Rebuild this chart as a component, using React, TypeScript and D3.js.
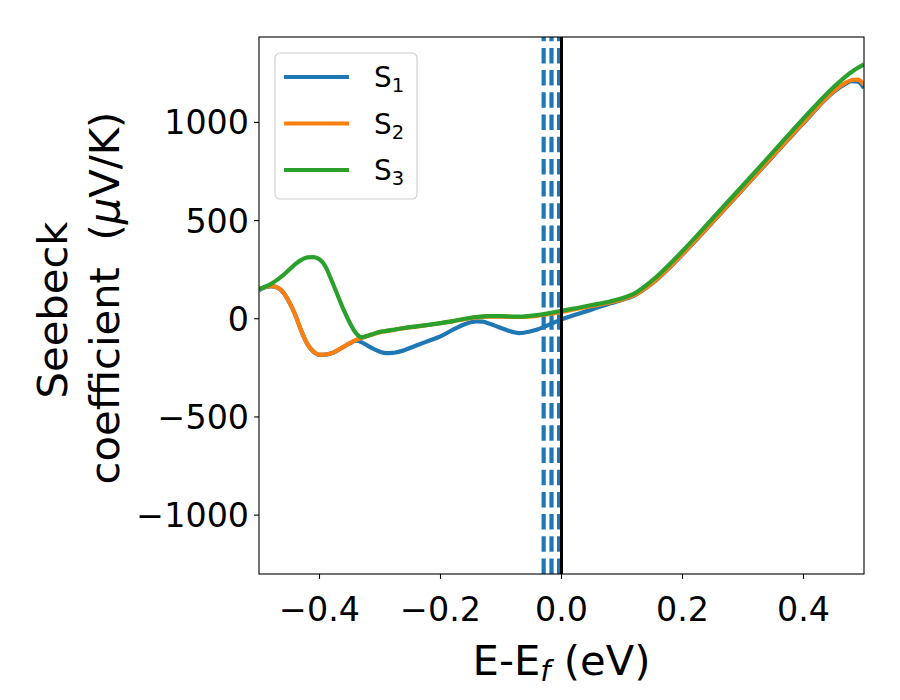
import React from 'react';
import * as d3 from 'd3';

// energy grid (eV, relative to E_f)
const energies = [
  -0.50, -0.49, -0.48, -0.47, -0.46, -0.45, -0.44, -0.43, -0.42, -0.41,
  -0.40, -0.39, -0.38, -0.37, -0.36, -0.35, -0.34, -0.33, -0.32, -0.31,
  -0.30, -0.29, -0.28, -0.26, -0.24, -0.22, -0.20, -0.18, -0.16, -0.15,
  -0.14, -0.13, -0.12, -0.10, -0.08, -0.07, -0.06, -0.04, -0.02, 0.00,
  0.02, 0.05, 0.08, 0.10, 0.12, 0.15, 0.20, 0.25, 0.30, 0.35,
  0.40, 0.45, 0.47, 0.48, 0.49, 0.50,
];

const s1 = [
  145, 160, 165, 159, 134, 84, 19, -63, -129, -168,
  -184, -183, -176, -161, -143, -126, -112, -120, -138, -155,
  -168, -175, -174, -160, -136, -113, -90, -57, -28, -18,
  -13, -15, -24, -47, -68, -73, -70, -55, -30, -3,
  18, 47, 78, 96, 118, 180, 327, 492, 660, 829,
  997, 1155, 1198, 1210, 1208, 1175,
];

const s2 = [
  150, 162, 166, 160, 135, 85, 20, -62, -128, -167,
  -183, -182, -175, -160, -142, -124, -108, -97, -87, -77,
  -68, -63, -58, -48, -40, -32, -23, -13, -2, 3,
  7, 10, 11, 11, 9, 9, 10, 15, 24, 35,
  47, 65, 83, 98, 120, 182, 330, 495, 663, 832,
  1000, 1160, 1203, 1216, 1218, 1192,
];

const s3 = [
  150, 163, 178, 198, 222, 250, 278, 300, 313, 314,
  303, 265, 195, 120, 45, -20, -72, -95, -86, -76,
  -67, -62, -57, -47, -39, -31, -22, -12, 0, 5,
  9, 12, 13, 13, 11, 11, 12, 19, 29, 41,
  52, 70, 88, 104, 128, 195, 345, 512, 680, 850,
  1020, 1180, 1235, 1258, 1278, 1296,
];

const seriesNames = ['1', '2', '3'];
const seriesColors = ['#1f77b4', '#ff7f0e', '#2ca02c'];
const fermiLevels = [-0.0295, -0.0165, -0.004];

const xTicks = [-0.4, -0.2, 0.0, 0.2, 0.4];
const yTicks = [-1000, -500, 0, 500, 1000];

const W = 900;
const H = 700;
const left = 259;
const right = 864;
const top = 37;
const bottom = 574;

const font = 'DejaVu Sans, sans-serif';
const fmtX = (v: number) => (v < 0 ? '\u2212' : '') + Math.abs(v).toFixed(1);
const fmtY = (v: number) => (v < 0 ? '\u2212' : '') + Math.abs(v);

export default function App() {
  const x = d3.scaleLinear().domain([-0.5, 0.5]).range([left, right]);
  const y = d3.scaleLinear().domain([-1300, 1435]).range([bottom, top]);

  const line = d3
    .line<number>()
    .x((_, i) => x(energies[i]))
    .y((d) => y(d))
    .curve(d3.curveMonotoneX);

  const series = [s1, s2, s3];

  return (
    <svg
      width={W}
      height={H}
      style={{ position: 'absolute', left: 0, top: 0, background: '#fff' }}
      fontFamily={font}
    >
      <defs>
        <clipPath id="plot">
          <rect x={left} y={top} width={right - left} height={bottom - top} />
        </clipPath>
      </defs>

      <g clipPath="url(#plot)">
        {fermiLevels.map((e, i) => (
          <line
            key={i}
            x1={x(e)}
            x2={x(e)}
            y1={bottom}
            y2={top}
            stroke="#1f77b4"
            strokeWidth={4.2}
            strokeDasharray="15.5,6.7"
          />
        ))}
        {series.map((s, i) => (
          <path
            key={i}
            d={line(s) || ''}
            fill="none"
            stroke={seriesColors[i]}
            strokeWidth={4.2}
            strokeLinejoin="round"
          />
        ))}
        <line x1={x(0)} x2={x(0)} y1={bottom} y2={top} stroke="#000" strokeWidth={3} />
      </g>

      <rect
        x={left}
        y={top}
        width={right - left}
        height={bottom - top}
        fill="none"
        stroke="#000"
        strokeWidth={1.1}
      />

      {xTicks.map((t) => (
        <g key={t}>
          <line x1={x(t)} x2={x(t)} y1={bottom} y2={bottom + 4.9} stroke="#000" strokeWidth={1.1} />
          <text x={x(t)} y={621} textAnchor="middle" fontSize={33.3}>
            {fmtX(t)}
          </text>
        </g>
      ))}

      {yTicks.map((t) => (
        <g key={t}>
          <line x1={left - 4.9} x2={left} y1={y(t)} y2={y(t)} stroke="#000" strokeWidth={1.1} />
          <text x={left - 10} y={y(t) + 12} textAnchor="end" fontSize={33.3}>
            {fmtY(t)}
          </text>
        </g>
      ))}

      <text x={(left + right) / 2} y={675} textAnchor="middle" fontSize={41.7}>
        E-E
        <tspan fontStyle="italic" fontSize={29} dy={6}>
          f
        </tspan>
        <tspan dy={-6}> (eV)</tspan>
      </text>

      <text transform="translate(67,310) rotate(-90)" textAnchor="middle" fontSize={41.7}>
        Seebeck
      </text>
      <text transform="translate(119,298) rotate(-90)" textAnchor="middle" fontSize={41.7}>
        {'coefficient\u00a0\u00a0('}
        <tspan fontStyle="italic">μ</tspan>
        V/K)
      </text>

      <rect
        x={275}
        y={53}
        width={142}
        height={146}
        rx={5}
        fill="#fff"
        fillOpacity={0.8}
        stroke="#cccccc"
        strokeWidth={1.1}
      />
      {seriesNames.map((n, i) => {
        const ly = 77 + i * 46.5;
        return (
          <g key={n}>
            <line x1={284} x2={349} y1={ly} y2={ly} stroke={seriesColors[i]} strokeWidth={4.2} />
            <text x={374} y={ly + 10} fontSize={27.8}>
              S
              <tspan fontSize={19.5} dy={5}>
                {n}
              </tspan>
            </text>
          </g>
        );
      })}
    </svg>
  );
}
